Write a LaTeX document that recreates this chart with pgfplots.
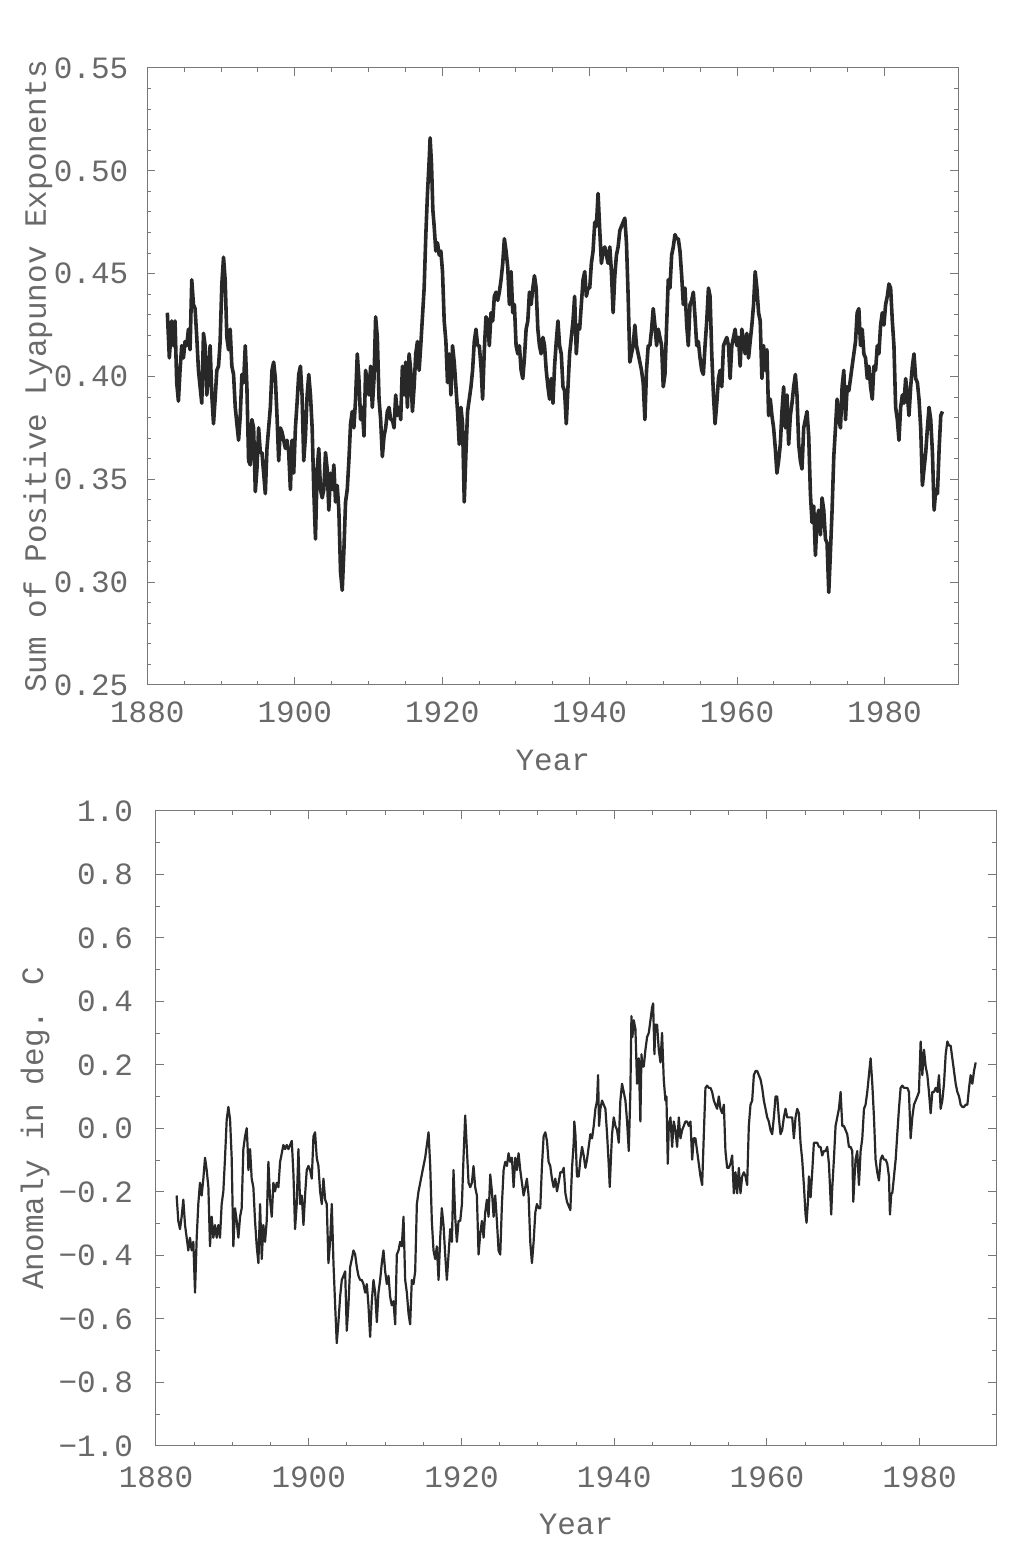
\documentclass[border=0pt]{standalone}
\usepackage{pgfplots}
\pgfplotsset{compat=1.18}
\usepackage{pgfplotstable}
\usepackage{fontspec}
\setmainfont{Liberation Mono}
\definecolor{txt}{RGB}{105,105,105}
\definecolor{frame}{RGB}{120,120,120}
\definecolor{trace}{RGB}{40,40,40}

% sum of positive Lyapunov exponents
\pgfplotstableread{
year value
1882.72 0.431
1882.99 0.409
1883.31 0.427
1883.54 0.415
1883.76 0.427
1883.99 0.397
1884.22 0.388
1884.44 0.403
1884.67 0.415
1884.90 0.409
1885.12 0.417
1885.35 0.415
1885.58 0.423
1885.80 0.413
1886.03 0.447
1886.26 0.435
1886.48 0.433
1886.71 0.419
1886.94 0.403
1887.16 0.395
1887.39 0.387
1887.62 0.421
1887.84 0.415
1888.07 0.391
1888.30 0.401
1888.52 0.415
1888.75 0.391
1888.98 0.377
1889.20 0.389
1889.43 0.403
1889.66 0.405
1889.88 0.417
1890.11 0.445
1890.34 0.458
1890.56 0.447
1890.79 0.419
1891.02 0.413
1891.24 0.423
1891.47 0.405
1891.70 0.401
1891.93 0.385
1892.15 0.377
1892.38 0.369
1892.61 0.381
1892.83 0.401
1893.06 0.397
1893.29 0.415
1893.51 0.395
1893.74 0.359
1893.97 0.357
1894.19 0.379
1894.42 0.375
1894.65 0.344
1894.87 0.355
1895.10 0.375
1895.33 0.363
1895.55 0.363
1895.78 0.353
1896.01 0.343
1896.23 0.365
1896.46 0.375
1896.69 0.385
1896.91 0.403
1897.14 0.407
1897.37 0.399
1897.59 0.381
1897.82 0.359
1898.05 0.375
1898.27 0.373
1898.50 0.369
1898.73 0.365
1898.95 0.369
1899.18 0.363
1899.41 0.345
1899.63 0.369
1899.86 0.353
1900.09 0.375
1900.31 0.387
1900.54 0.401
1900.77 0.405
1900.99 0.391
1901.22 0.359
1901.45 0.371
1901.68 0.391
1901.90 0.401
1902.13 0.391
1902.36 0.375
1902.58 0.345
1902.81 0.321
1903.04 0.355
1903.26 0.365
1903.49 0.345
1903.72 0.341
1903.94 0.345
1904.17 0.363
1904.40 0.355
1904.62 0.335
1904.85 0.353
1905.08 0.345
1905.30 0.357
1905.53 0.339
1905.76 0.347
1905.98 0.335
1906.21 0.305
1906.44 0.296
1906.66 0.315
1906.89 0.339
1907.12 0.345
1907.34 0.359
1907.57 0.377
1907.80 0.383
1908.02 0.375
1908.25 0.389
1908.48 0.411
1908.70 0.399
1908.93 0.379
1909.16 0.385
1909.39 0.371
1909.61 0.403
1909.84 0.397
1910.07 0.391
1910.29 0.405
1910.52 0.385
1910.75 0.399
1910.97 0.429
1911.20 0.419
1911.43 0.389
1911.65 0.379
1911.88 0.361
1912.11 0.371
1912.33 0.375
1912.56 0.383
1912.79 0.385
1913.01 0.379
1913.24 0.379
1913.47 0.375
1913.69 0.391
1913.92 0.381
1914.15 0.385
1914.37 0.379
1914.60 0.405
1914.83 0.391
1915.05 0.407
1915.28 0.385
1915.51 0.411
1915.73 0.403
1915.96 0.383
1916.19 0.395
1916.41 0.411
1916.64 0.417
1916.87 0.403
1917.09 0.415
1917.32 0.429
1917.55 0.443
1917.78 0.469
1918.00 0.489
1918.23 0.505
1918.36 0.516
1918.55 0.503
1918.73 0.481
1918.91 0.473
1919.13 0.461
1919.36 0.465
1919.59 0.459
1919.82 0.461
1920.04 0.451
1920.27 0.427
1920.50 0.417
1920.72 0.397
1920.95 0.411
1921.18 0.391
1921.40 0.415
1921.63 0.407
1921.86 0.395
1922.08 0.383
1922.31 0.367
1922.54 0.385
1922.76 0.377
1922.99 0.339
1923.22 0.363
1923.44 0.383
1923.67 0.389
1923.90 0.395
1924.12 0.403
1924.35 0.417
1924.58 0.423
1924.80 0.415
1925.03 0.415
1925.26 0.405
1925.48 0.389
1925.71 0.413
1925.94 0.429
1926.17 0.427
1926.39 0.415
1926.62 0.431
1926.85 0.427
1927.07 0.439
1927.30 0.441
1927.53 0.437
1927.75 0.441
1927.98 0.447
1928.21 0.455
1928.43 0.467
1928.66 0.461
1928.89 0.453
1929.11 0.435
1929.34 0.451
1929.57 0.431
1929.79 0.435
1930.02 0.415
1930.25 0.411
1930.47 0.415
1930.70 0.403
1930.93 0.399
1931.15 0.409
1931.38 0.423
1931.61 0.427
1931.83 0.441
1932.06 0.435
1932.29 0.443
1932.51 0.449
1932.74 0.443
1932.97 0.423
1933.19 0.415
1933.42 0.411
1933.66 0.419
1933.88 0.415
1934.11 0.403
1934.34 0.395
1934.56 0.389
1934.79 0.399
1935.02 0.387
1935.24 0.405
1935.47 0.417
1935.70 0.427
1935.92 0.415
1936.15 0.411
1936.38 0.395
1936.60 0.393
1936.83 0.377
1937.06 0.395
1937.28 0.411
1937.51 0.419
1937.74 0.427
1937.96 0.439
1938.19 0.411
1938.42 0.425
1938.64 0.423
1938.87 0.435
1939.10 0.447
1939.33 0.451
1939.55 0.439
1939.78 0.443
1940.01 0.443
1940.23 0.455
1940.46 0.461
1940.69 0.475
1940.91 0.473
1941.14 0.489
1941.37 0.471
1941.59 0.455
1941.82 0.461
1942.05 0.463
1942.27 0.459
1942.50 0.455
1942.73 0.463
1942.95 0.451
1943.18 0.431
1943.41 0.449
1943.63 0.459
1943.86 0.463
1944.09 0.471
1944.31 0.473
1944.54 0.475
1944.77 0.477
1944.99 0.465
1945.22 0.439
1945.45 0.407
1945.67 0.411
1945.90 0.415
1946.13 0.425
1946.35 0.415
1946.58 0.411
1946.81 0.407
1947.03 0.403
1947.26 0.397
1947.49 0.379
1947.71 0.403
1947.94 0.415
1948.17 0.415
1948.40 0.423
1948.62 0.433
1948.85 0.425
1949.08 0.415
1949.30 0.423
1949.53 0.419
1949.76 0.415
1949.98 0.395
1950.21 0.401
1950.44 0.425
1950.66 0.447
1950.89 0.443
1951.12 0.459
1951.34 0.463
1951.57 0.469
1951.80 0.467
1952.02 0.467
1952.25 0.461
1952.48 0.449
1952.70 0.435
1952.93 0.443
1953.16 0.425
1953.38 0.415
1953.61 0.435
1953.84 0.437
1954.06 0.441
1954.29 0.429
1954.52 0.415
1954.74 0.417
1954.97 0.409
1955.20 0.403
1955.42 0.401
1955.65 0.415
1955.88 0.427
1956.11 0.443
1956.33 0.439
1956.56 0.411
1956.79 0.391
1957.01 0.377
1957.24 0.387
1957.47 0.399
1957.69 0.403
1957.92 0.395
1958.15 0.415
1958.37 0.417
1958.60 0.419
1958.83 0.415
1959.05 0.399
1959.28 0.415
1959.51 0.419
1959.73 0.423
1959.96 0.415
1960.19 0.419
1960.41 0.405
1960.64 0.423
1960.87 0.417
1961.09 0.411
1961.32 0.421
1961.55 0.409
1961.77 0.417
1962.00 0.425
1962.23 0.435
1962.45 0.451
1962.68 0.443
1962.91 0.431
1963.13 0.427
1963.36 0.399
1963.59 0.415
1963.81 0.403
1964.04 0.413
1964.27 0.381
1964.50 0.389
1964.72 0.381
1964.95 0.375
1965.18 0.365
1965.40 0.353
1965.63 0.359
1965.86 0.367
1966.08 0.383
1966.31 0.395
1966.54 0.375
1966.76 0.391
1966.99 0.367
1967.22 0.381
1967.44 0.387
1967.67 0.395
1967.90 0.401
1968.12 0.391
1968.35 0.367
1968.58 0.359
1968.80 0.355
1969.03 0.375
1969.26 0.379
1969.48 0.383
1969.71 0.371
1969.94 0.343
1970.16 0.329
1970.39 0.337
1970.62 0.313
1970.84 0.331
1971.07 0.335
1971.30 0.323
1971.52 0.341
1971.75 0.335
1971.98 0.321
1972.20 0.319
1972.43 0.295
1972.66 0.315
1972.88 0.335
1973.11 0.361
1973.34 0.375
1973.56 0.389
1973.79 0.379
1974.02 0.375
1974.24 0.395
1974.47 0.403
1974.70 0.379
1974.92 0.395
1975.15 0.393
1975.38 0.399
1975.60 0.405
1975.83 0.411
1976.06 0.417
1976.28 0.431
1976.51 0.433
1976.74 0.415
1976.97 0.423
1977.19 0.411
1977.42 0.409
1977.65 0.399
1977.87 0.405
1978.10 0.395
1978.33 0.389
1978.55 0.405
1978.78 0.403
1979.01 0.415
1979.23 0.411
1979.46 0.425
1979.69 0.431
1979.91 0.425
1980.14 0.435
1980.37 0.439
1980.59 0.445
1980.82 0.443
1981.05 0.427
1981.27 0.415
1981.50 0.385
1981.73 0.379
1981.95 0.369
1982.18 0.385
1982.41 0.391
1982.63 0.387
1982.86 0.399
1983.09 0.391
1983.31 0.381
1983.54 0.395
1983.77 0.405
1983.99 0.411
1984.22 0.399
1984.45 0.397
1984.67 0.389
1984.90 0.375
1985.13 0.347
1985.35 0.355
1985.58 0.363
1985.81 0.375
1986.03 0.385
1986.26 0.379
1986.49 0.363
1986.72 0.335
1986.94 0.345
1987.17 0.343
1987.40 0.365
1987.62 0.381
1987.85 0.383
}\lyapunov

% temperature anomaly in deg. C
\pgfplotstableread{
year value
1882.70 -0.211
1882.92 -0.291
1883.14 -0.317
1883.36 -0.278
1883.58 -0.224
1883.80 -0.304
1884.02 -0.344
1884.23 -0.384
1884.45 -0.344
1884.67 -0.384
1884.89 -0.357
1885.11 -0.517
1885.33 -0.344
1885.54 -0.238
1885.76 -0.171
1885.98 -0.211
1886.20 -0.158
1886.42 -0.092
1886.64 -0.131
1886.86 -0.185
1887.07 -0.371
1887.29 -0.278
1887.51 -0.344
1887.73 -0.304
1887.95 -0.344
1888.17 -0.304
1888.38 -0.344
1888.60 -0.238
1888.82 -0.198
1889.04 -0.092
1889.26 0.028
1889.48 0.068
1889.70 0.028
1889.91 -0.092
1890.13 -0.371
1890.35 -0.251
1890.57 -0.291
1890.79 -0.344
1891.01 -0.278
1891.22 -0.251
1891.44 -0.065
1891.66 -0.025
1891.88 0.001
1892.01 -0.065
1892.10 -0.131
1892.32 -0.065
1892.53 -0.158
1892.75 -0.185
1892.97 -0.291
1893.19 -0.371
1893.41 -0.424
1893.63 -0.238
1893.85 -0.411
1894.06 -0.304
1894.28 -0.357
1894.50 -0.291
1894.72 -0.105
1894.94 -0.224
1895.16 -0.278
1895.37 -0.171
1895.59 -0.198
1895.81 -0.171
1896.03 -0.185
1896.25 -0.105
1896.47 -0.078
1896.68 -0.052
1896.90 -0.065
1897.12 -0.052
1897.34 -0.065
1897.56 -0.052
1897.78 -0.039
1898.00 -0.145
1898.21 -0.317
1898.43 -0.238
1898.65 -0.065
1898.87 -0.238
1899.09 -0.211
1899.31 -0.304
1899.52 -0.211
1899.74 -0.131
1899.96 -0.118
1900.18 -0.131
1900.40 -0.158
1900.62 -0.025
1900.83 -0.012
1901.05 -0.092
1901.27 -0.118
1901.49 -0.198
1901.71 -0.238
1901.93 -0.158
1902.15 -0.224
1902.36 -0.238
1902.58 -0.424
1902.80 -0.357
1903.02 -0.238
1903.24 -0.424
1903.46 -0.557
1903.67 -0.676
1903.89 -0.610
1904.11 -0.530
1904.33 -0.477
1904.55 -0.464
1904.77 -0.450
1904.98 -0.637
1905.20 -0.557
1905.42 -0.437
1905.64 -0.411
1905.86 -0.384
1906.08 -0.397
1906.30 -0.437
1906.51 -0.464
1906.73 -0.477
1906.95 -0.477
1907.17 -0.490
1907.39 -0.517
1907.61 -0.490
1907.82 -0.557
1908.04 -0.656
1908.26 -0.544
1908.48 -0.477
1908.70 -0.517
1908.92 -0.610
1909.13 -0.517
1909.35 -0.477
1909.57 -0.424
1909.79 -0.384
1910.01 -0.450
1910.23 -0.490
1910.45 -0.464
1910.66 -0.530
1910.88 -0.557
1911.10 -0.544
1911.32 -0.617
1911.54 -0.397
1911.76 -0.384
1911.97 -0.357
1912.19 -0.371
1912.41 -0.278
1912.63 -0.477
1912.85 -0.517
1913.07 -0.583
1913.28 -0.617
1913.50 -0.477
1913.72 -0.490
1913.94 -0.450
1914.16 -0.238
1914.38 -0.198
1914.60 -0.171
1914.81 -0.145
1915.03 -0.118
1915.25 -0.092
1915.47 -0.052
1915.69 -0.012
1915.91 -0.118
1916.12 -0.291
1916.34 -0.384
1916.56 -0.411
1916.78 -0.371
1917.00 -0.477
1917.22 -0.344
1917.43 -0.251
1917.65 -0.304
1917.87 -0.397
1918.09 -0.477
1918.31 -0.397
1918.53 -0.317
1918.75 -0.357
1918.96 -0.131
1919.18 -0.278
1919.40 -0.357
1919.62 -0.291
1919.84 -0.291
1920.06 -0.238
1920.27 -0.092
1920.49 0.041
1920.71 -0.065
1920.93 -0.171
1921.15 -0.185
1921.37 -0.171
1921.58 -0.118
1921.80 -0.185
1922.02 -0.211
1922.24 -0.397
1922.46 -0.331
1922.68 -0.291
1922.90 -0.344
1923.11 -0.265
1923.33 -0.224
1923.55 -0.278
1923.77 -0.145
1923.99 -0.198
1924.21 -0.278
1924.42 -0.211
1924.64 -0.291
1924.86 -0.384
1925.08 -0.397
1925.30 -0.238
1925.52 -0.131
1925.73 -0.105
1925.95 -0.118
1926.17 -0.078
1926.39 -0.105
1926.61 -0.092
1926.83 -0.185
1927.05 -0.092
1927.26 -0.131
1927.48 -0.078
1927.70 -0.131
1927.92 -0.171
1928.14 -0.211
1928.36 -0.185
1928.57 -0.158
1928.79 -0.211
1929.01 -0.357
1929.23 -0.424
1929.45 -0.357
1929.67 -0.265
1929.88 -0.238
1930.10 -0.251
1930.32 -0.251
1930.54 -0.118
1930.76 -0.025
1930.98 -0.012
1931.20 -0.039
1931.41 -0.105
1931.63 -0.118
1931.85 -0.158
1932.07 -0.185
1932.29 -0.158
1932.51 -0.198
1932.72 -0.171
1932.95 -0.138
1933.17 -0.138
1933.39 -0.124
1933.61 -0.204
1933.82 -0.231
1934.04 -0.244
1934.26 -0.257
1934.48 -0.124
1934.70 -0.045
1934.78 0.022
1934.92 -0.018
1935.13 -0.151
1935.35 -0.151
1935.57 -0.098
1935.79 -0.058
1936.01 -0.085
1936.23 -0.124
1936.44 -0.098
1936.66 -0.058
1936.88 -0.018
1937.10 -0.031
1937.32 0.008
1937.54 0.062
1937.76 0.088
1937.89 0.168
1938.02 0.008
1938.19 0.062
1938.41 0.088
1938.63 0.075
1938.85 0.062
1939.07 -0.018
1939.28 -0.111
1939.42 -0.184
1939.59 -0.085
1939.72 -0.018
1939.94 0.035
1940.16 0.008
1940.38 -0.005
1940.60 -0.045
1940.81 0.088
1941.03 0.141
1941.25 0.115
1941.47 0.088
1941.69 0.022
1941.91 -0.071
1942.12 0.115
1942.26 0.354
1942.39 0.288
1942.56 0.341
1942.78 0.314
1943.00 0.141
1943.22 0.221
1943.43 0.022
1943.57 0.234
1943.70 0.195
1943.87 0.195
1944.09 0.248
1944.31 0.288
1944.53 0.301
1944.75 0.341
1944.96 0.381
1945.10 0.394
1945.27 0.234
1945.40 0.327
1945.62 0.327
1945.84 0.248
1946.06 0.208
1946.27 0.301
1946.49 0.155
1946.71 0.088
1946.84 0.101
1947.02 -0.111
1947.15 0.008
1947.37 0.035
1947.59 -0.058
1947.80 0.022
1948.02 -0.005
1948.24 -0.058
1948.46 0.035
1948.68 -0.031
1948.90 -0.005
1949.11 0.008
1949.33 0.022
1949.55 0.022
1949.77 0.008
1949.99 0.022
1950.21 -0.098
1950.42 -0.031
1950.64 -0.031
1950.86 -0.071
1951.08 -0.111
1951.30 -0.151
1951.52 -0.178
1951.74 -0.018
1951.95 0.128
1952.17 0.135
1952.39 0.128
1952.61 0.128
1952.83 0.115
1953.05 0.088
1953.26 0.075
1953.48 0.062
1953.70 0.101
1953.92 0.062
1954.14 0.048
1954.36 0.075
1954.57 -0.071
1954.79 -0.124
1955.01 -0.124
1955.23 -0.111
1955.45 -0.085
1955.67 -0.204
1955.89 -0.138
1956.10 -0.204
1956.32 -0.124
1956.54 -0.204
1956.76 -0.151
1956.98 -0.138
1957.20 -0.151
1957.41 -0.178
1957.63 0.008
1957.85 0.075
1958.07 0.088
1958.29 0.168
1958.51 0.181
1958.73 0.181
1958.94 0.168
1959.16 0.155
1959.38 0.128
1959.60 0.088
1959.82 0.062
1960.04 0.035
1960.25 0.022
1960.47 -0.005
1960.69 -0.018
1960.91 0.035
1961.13 0.101
1961.35 0.101
1961.56 0.035
1961.78 -0.018
1962.00 -0.005
1962.22 0.035
1962.44 0.062
1962.66 0.035
1962.88 0.035
1963.09 0.035
1963.31 0.035
1963.53 -0.031
1963.75 0.035
1963.97 0.062
1964.19 0.048
1964.40 -0.045
1964.62 -0.098
1964.84 -0.178
1965.06 -0.271
1965.19 -0.297
1965.37 -0.231
1965.50 -0.151
1965.72 -0.217
1965.93 -0.138
1966.15 -0.045
1966.37 -0.045
1966.59 -0.045
1966.81 -0.058
1967.03 -0.058
1967.24 -0.085
1967.46 -0.071
1967.68 -0.071
1967.90 -0.058
1968.12 -0.111
1968.25 -0.178
1968.42 -0.271
1968.55 -0.191
1968.77 -0.098
1968.99 0.008
1969.21 0.035
1969.43 0.062
1969.65 0.115
1969.87 0.008
1970.08 0.008
1970.30 -0.005
1970.52 -0.018
1970.74 -0.058
1970.96 -0.058
1971.18 -0.071
1971.31 -0.231
1971.48 -0.151
1971.61 -0.098
1971.83 -0.071
1972.05 -0.178
1972.27 -0.071
1972.49 -0.031
1972.71 0.062
1972.92 0.075
1973.14 0.115
1973.36 0.168
1973.58 0.221
1973.80 0.141
1974.02 0.035
1974.23 -0.098
1974.45 -0.138
1974.67 -0.164
1974.89 -0.098
1975.11 -0.085
1975.33 -0.098
1975.55 -0.098
1975.76 -0.111
1975.98 -0.151
1976.11 -0.271
1976.29 -0.204
1976.42 -0.204
1976.64 -0.151
1976.86 -0.098
1977.07 -0.018
1977.29 0.062
1977.51 0.128
1977.73 0.135
1977.95 0.128
1978.17 0.128
1978.39 0.128
1978.60 0.115
1978.82 -0.031
1979.04 0.035
1979.26 0.075
1979.48 0.088
1979.70 0.101
1979.91 0.115
1980.13 0.274
1980.35 0.168
1980.57 0.248
1980.79 0.195
1981.01 0.168
1981.22 0.115
1981.44 0.048
1981.66 0.115
1981.88 0.115
1982.10 0.128
1982.32 0.115
1982.53 0.168
1982.75 0.062
1982.97 0.088
1983.19 0.141
1983.41 0.234
1983.63 0.274
1983.85 0.261
1984.06 0.261
1984.28 0.221
1984.50 0.181
1984.72 0.141
1984.94 0.115
1985.16 0.101
1985.37 0.075
1985.59 0.068
1985.81 0.068
1986.03 0.075
1986.25 0.075
1986.47 0.128
1986.68 0.168
1986.90 0.141
1987.12 0.181
1987.34 0.208
}\anomaly

\pgfplotsset{
  oldplot/.style={
    scale only axis,
    anchor=south west,
    xmin=1880, xmax=1990,
    xtick={1880,1900,1920,1940,1960,1980},
    xticklabels={1880,1900,1920,1940,1960,1980},
    minor x tick num=3,
    tick align=inside,
    major tick length=4pt,
    minor tick length=2pt,
    axis line style={frame, line width=0.5pt},
    tick style={frame, line width=0.5pt},
    ticklabel style={font=\fontsize{15.5}{18}\selectfont, text=txt},
    label style={font=\fontsize{15.5}{18}\selectfont, text=txt},
    xlabel={Year},
  }
}

\begin{document}
\begin{tikzpicture}
\path[use as bounding box] (0,0) rectangle (506.5pt,778.5pt);

% upper panel
\begin{axis}[oldplot,
  at={(73.65pt,436pt)}, width=405.5pt, height=308.5pt,
  ymin=0.25, ymax=0.55,
  ytick={0.25,0.3,0.35,0.4,0.45,0.5,0.55},
  yticklabels={0.25,0.30,0.35,0.40,0.45,0.50,0.55},
  minor y tick num=4,
  xticklabel style={yshift=-5pt},
  yticklabel style={xshift=-6pt},
  ylabel={Sum of Positive Lyapunov Exponents},
  ylabel style={at={(axis description cs:-0.135,0.5)}, anchor=center},
  xlabel style={at={(axis description cs:0.5,-0.122)}, anchor=center},
]
\addplot[trace, line width=1.8pt, line join=round] table[x=year, y=value] {\lyapunov};
\end{axis}

% lower panel
\begin{axis}[oldplot,
  at={(78pt,55.5pt)}, width=420pt, height=317.5pt,
  ymin=-1, ymax=1,
  ytick={-1,-0.8,-0.6,-0.4,-0.2,0,0.2,0.4,0.6,0.8,1},
  yticklabels={−1.0,−0.8,−0.6,−0.4,−0.2,0.0,0.2,0.4,0.6,0.8,1.0},
  minor y tick num=1,
  xticklabel style={yshift=-7pt},
  yticklabel style={xshift=-8pt},
  ylabel={Anomaly in deg. C},
  ylabel style={at={(axis description cs:-0.144,0.5)}, anchor=center},
  xlabel style={at={(axis description cs:0.5,-0.124)}, anchor=center},
]
\addplot[trace, line width=1.1pt, line join=round] table[x=year, y=value] {\anomaly};
\end{axis}
\end{tikzpicture}
\end{document}
